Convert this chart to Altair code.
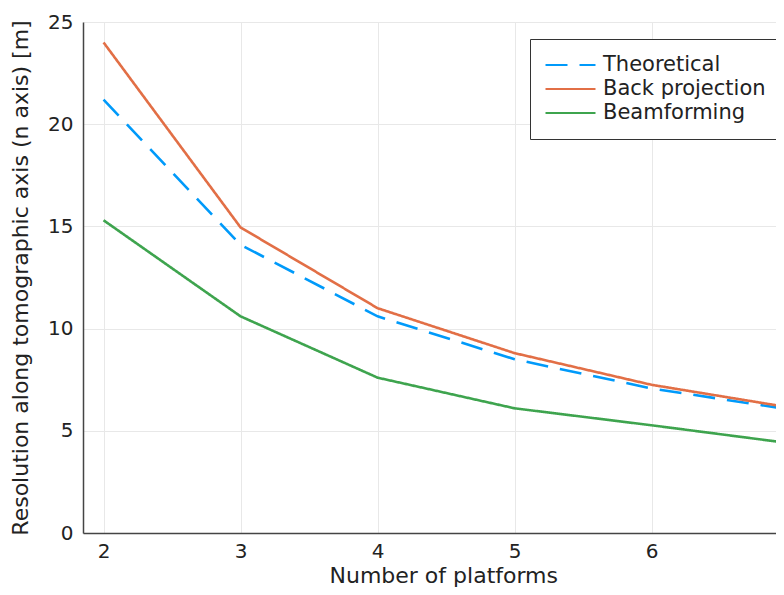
import altair as alt
import pandas as pd

platforms = [2, 3, 4, 5, 6, 7]
theoretical = [21.2, 14.1, 10.6, 8.5, 7.07, 6.05]
back_projection = [24.0, 14.95, 11.0, 8.8, 7.25, 6.15]
beamforming = [15.3, 10.6, 7.6, 6.1, 5.27, 4.4]

series_names = ["Theoretical", "Back projection", "Beamforming"]
series_colors = ["#009AFA", "#E26F46", "#3EA44E"]

rows = []
for name, vals in zip(series_names, [theoretical, back_projection, beamforming]):
    for x, y in zip(platforms, vals):
        rows.append({"platforms": x, "value": y, "series": name})
df = pd.DataFrame(rows)

FONT = "DejaVu Sans"

chart = alt.Chart(df).mark_line(strokeWidth=2.6, clip=True).encode(
    x=alt.X("platforms:Q",
            scale=alt.Scale(domain=[1.85, 6.908], nice=False, zero=False),
            axis=alt.Axis(title="Number of platforms", values=[2, 3, 4, 5, 6], format="d",
                          tickSize=0, labelPadding=8, titlePadding=4,
                          titleX=329 - 83, titleAnchor="start")),
    y=alt.Y("value:Q",
            scale=alt.Scale(domain=[0, 25], nice=False),
            axis=alt.Axis(title="Resolution along tomographic axis (n axis) [m]",
                          values=[0, 5, 10, 15, 20, 25], tickSize=0,
                          labelPadding=10, titlePadding=15)),
    color=alt.Color("series:N",
                    scale=alt.Scale(domain=series_names, range=series_colors),
                    sort=series_names,
                    legend=alt.Legend(title=None, orient="none", legendX=447, legendY=17,
                                      symbolType="stroke", symbolSize=2500,
                                      symbolStrokeWidth=2.2, clipHeight=24, rowPadding=0,
                                      labelFontSize=21, labelFont=FONT, labelColor="#222",
                                      labelLimit=400,
                                      fillColor="white", strokeColor="#333",
                                      padding=14, labelOffset=6)),
    strokeDash=alt.StrokeDash("series:N",
                              scale=alt.Scale(domain=series_names,
                                              range=[[22, 12], [1, 0], [1, 0]]),
                              sort=series_names,
                              legend=None),
).properties(
    width=693, height=511,
    autosize=alt.AutoSizeParams(type="none"),
    padding={"left": 75, "top": 14, "right": 0, "bottom": 54},
).configure_view(stroke=None).configure_axis(
    labelFont=FONT, titleFont=FONT, labelFontSize=20, titleFontSize=22,
    labelColor="#222", titleColor="#222", titleFontWeight="normal",
    gridColor="#e8e8e8", gridWidth=1, domainColor="#444", domainWidth=1.5,
)

chart.save("out.html", embed_options={"renderer": "svg", "actions": False})
